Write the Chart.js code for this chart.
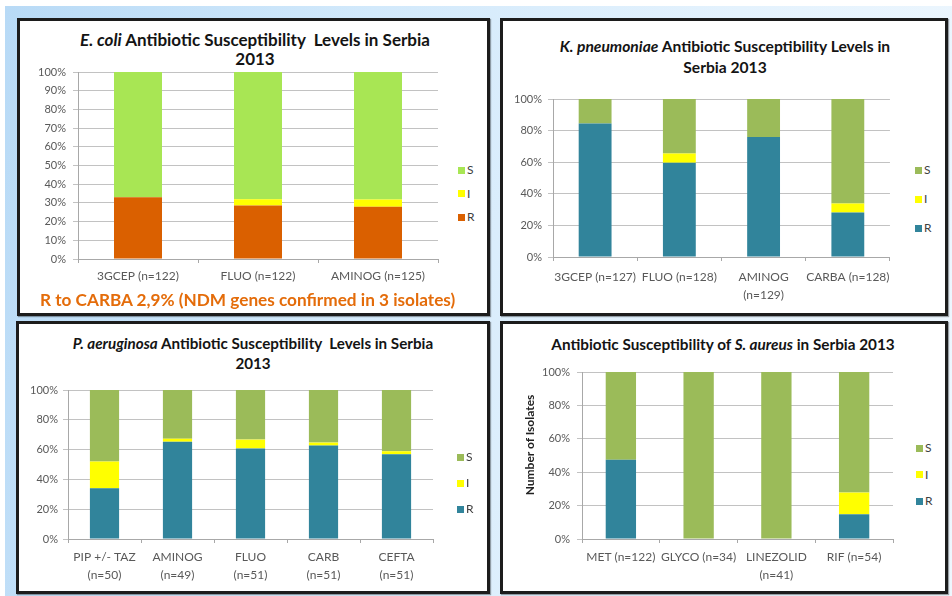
<!DOCTYPE html>
<html>
<head>
<meta charset="utf-8">
<script src="https://cdn.jsdelivr.net/npm/chart.js@4.4.1/dist/chart.umd.min.js"></script>
<style>
  html, body { margin: 0; padding: 0; }
  body {
    width: 952px; height: 596px; position: relative; overflow: hidden;
    background: #fff; font-family: Lato, "Open Sans", sans-serif;
  }
  #slide {
    position: absolute; left: 5px; top: 6px; right: 0; bottom: 0;
    background: linear-gradient(100deg, #b8daf6 0%, #d2e9fb 35%, #e4f2fd 70%, #eef7fe 100%);
  }
  .panel {
    position: absolute; box-sizing: border-box; background: #fff;
    border: 3px solid #1c1c1c; box-shadow: 1px 1px 1px rgba(0,0,0,0.35);
  }
  canvas { position: absolute; }
  .title {
    position: absolute; text-align: center; font-weight: bold; color: #141414;
    white-space: pre;
  }
  .title i { font-style: italic; }
  .footer {
    position: absolute; left: 40px; top: 290px; font-size: 17.2px; line-height: 20px;
    font-weight: bold; color: #e46c0a; white-space: nowrap;
  }
  .ytitle {
    position: absolute; left: 470px; top: 438px; width: 120px; height: 14px;
    line-height: 14px; text-align: center; font-size: 12px; font-weight: bold;
    color: #222; transform: rotate(-90deg); white-space: nowrap;
  }
  .legend { position: absolute; left: 0; top: 0; font-size: 12px; color: #404040; }
  .legend .box { position: absolute; width: 7px; height: 7px; }
  .legend .txt { position: absolute; line-height: 14px; white-space: nowrap; }
</style>
</head>
<body>
<div id="slide"></div>

<div class="panel" style="left:17px;top:18px;width:473px;height:298px;"></div>
<div class="panel" style="left:500px;top:18px;width:448px;height:298px;"></div>
<div class="panel" style="left:16px;top:321px;width:474px;height:273px;"></div>
<div class="panel" style="left:500px;top:321px;width:448px;height:273px;"></div>

<div class="title" style="left:18px;width:474px;top:30px;font-size:17px;line-height:19px;"><i>E. coli</i> Antibiotic Susceptibility  Levels in Serbia
2013</div>
<div class="title" style="left:500px;width:450px;top:36px;font-size:15.6px;line-height:21px;"><i>K. pneumoniae</i> Antibiotic Susceptibility Levels in
Serbia 2013</div>
<div class="title" style="left:16px;width:474px;top:333px;font-size:15.2px;line-height:20px;"><i>P. aeruginosa</i> Antibiotic Susceptibility  Levels in Serbia
2013</div>
<div class="title" style="left:500px;width:446px;top:334px;font-size:15.3px;line-height:20px;">Antibiotic Susceptibility of <i>S. aureus</i> in Serbia 2013</div>

<canvas id="ecoli" width="420" height="236" style="left:22px;top:58px;"></canvas>
<canvas id="kpn" width="394" height="217" style="left:503px;top:85px;"></canvas>
<canvas id="pae" width="417" height="214" style="left:20px;top:376px;"></canvas>
<canvas id="sau" width="394" height="232" style="left:503px;top:358px;"></canvas>

<div class="ytitle">Number of Isolates</div>
<div class="footer">R to CARBA 2,9% (NDM genes confirmed in 3 isolates)</div>
<div class="legend" id="legends"></div>

<script>
// ---- E. coli ----
const ecoliCats = ['3GCEP (n=122)', 'FLUO (n=122)', 'AMINOG (n=125)'];
const ecoliR = [33.0, 28.6, 28.0];
const ecoliI = [0, 3.4, 3.8];
const ecoliS = [67.0, 68.0, 68.2];

// ---- K. pneumoniae ----
const kpnCats = ['3GCEP (n=127)', 'FLUO (n=128)', ['AMINOG', '(n=129)'], 'CARBA (n=128)'];
const kpnR = [84.5, 59.6, 76.0, 28.2];
const kpnI = [0, 5.9, 0, 5.7];
const kpnS = [15.5, 34.5, 24.0, 66.1];

// ---- P. aeruginosa ----
const paeCats = [['PIP +/- TAZ', '(n=50)'], ['AMINOG', '(n=49)'], ['FLUO', '(n=51)'], ['CARB', '(n=51)'], ['CEFTA', '(n=51)']];
const paeR = [34.0, 65.3, 60.8, 62.7, 56.9];
const paeI = [18.0, 2.0, 5.9, 2.0, 2.0];
const paeS = [48.0, 32.7, 33.3, 35.3, 41.1];

// ---- S. aureus ----
const sauCats = ['MET (n=122)', 'GLYCO (n=34)', ['LINEZOLID', '(n=41)'], 'RIF (n=54)'];
const sauR = [47.5, 0, 0, 14.8];
const sauI = [0, 0, 0, 13.0];
const sauS = [52.5, 100, 100, 72.2];

const seriesNames = ['R', 'I', 'S'];

const YELLOW = '#ffff00';
const GRID = '#c2c2c2';
const AXIS = '#a8a8a8';
const TICK = '#595959';

Chart.defaults.font.family = "Lato, 'Open Sans', sans-serif";

function stackedChart(id, cats, r, i, s, look) {
  return new Chart(document.getElementById(id), {
    type: 'bar',
    data: {
      labels: cats,
      datasets: [
        { label: seriesNames[0], data: r, backgroundColor: look.colR },
        { label: seriesNames[1], data: i, backgroundColor: YELLOW },
        { label: seriesNames[2], data: s, backgroundColor: look.colS }
      ]
    },
    options: {
      responsive: false,
      animation: false,
      devicePixelRatio: 1,
      layout: { padding: { top: 14, right: 4, left: 0, bottom: 0 } },
      plugins: { legend: { display: false }, tooltip: { enabled: false } },
      datasets: { bar: { categoryPercentage: 1, barPercentage: look.bar, borderWidth: 0 } },
      scales: {
        x: {
          stacked: true,
          grid: { display: true, drawOnChartArea: false, drawTicks: true, tickLength: 4, color: AXIS },
          border: { color: AXIS },
          ticks: {
            color: TICK, autoSkip: false, maxRotation: 0, padding: look.xPad,
            font: { size: 12, lineHeight: look.xLine }
          },
          afterFit: sc => { sc.height = look.xH; }
        },
        y: {
          stacked: true, min: 0, max: 100,
          grid: { color: GRID, tickLength: 5 },
          border: { color: AXIS },
          ticks: {
            stepSize: look.step, color: TICK, padding: look.yPad,
            font: { size: 11 },
            callback: v => v + '%'
          },
          afterFit: sc => { sc.width = look.yW; }
        }
      }
    }
  });
}

const ecoliChart = stackedChart('ecoli', ecoliCats, ecoliR, ecoliI, ecoliS, {
  colR: '#da6000', colS: '#a8e654', bar: 0.4, step: 10,
  yW: 56, xH: 35, xPad: 6, xLine: 1.2, yPad: 7
});
const kpnChart = stackedChart('kpn', kpnCats, kpnR, kpnI, kpnS, {
  colR: '#31849b', colS: '#9bbb59', bar: 0.39, step: 20,
  yW: 50, xH: 45, xPad: 7, xLine: 1.5, yPad: 6
});
const paeChart = stackedChart('pae', paeCats, paeR, paeI, paeS, {
  colR: '#31849b', colS: '#9bbb59', bar: 0.4, step: 20,
  yW: 48, xH: 51, xPad: 5, xLine: 1.5, yPad: 5
});
const sauChart = stackedChart('sau', sauCats, sauR, sauI, sauS, {
  colR: '#31849b', colS: '#9bbb59', bar: 0.39, step: 20,
  yW: 79, xH: 51, xPad: 5, xLine: 1.5, yPad: 7
});

// Legend: S on top, then I, then R, built from each chart's datasets
function legendFor(chart, x, yTop, step) {
  const host = document.getElementById('legends');
  const sets = chart.data.datasets.slice().reverse();
  sets.forEach((ds, k) => {
    const cy = yTop + k * step;
    const box = document.createElement('div');
    box.className = 'box';
    box.style.left = x + 'px';
    box.style.top = (cy - 3.5) + 'px';
    box.style.background = ds.backgroundColor;
    const txt = document.createElement('div');
    txt.className = 'txt';
    txt.style.left = (x + 9) + 'px';
    txt.style.top = (cy - 7) + 'px';
    txt.textContent = ds.label;
    host.appendChild(box);
    host.appendChild(txt);
  });
}
legendFor(ecoliChart, 458, 170, 23.5);
legendFor(kpnChart, 915, 170, 29);
legendFor(paeChart, 457, 457, 26);
legendFor(sauChart, 916, 448, 26.5);
</script>
</body>
</html>
